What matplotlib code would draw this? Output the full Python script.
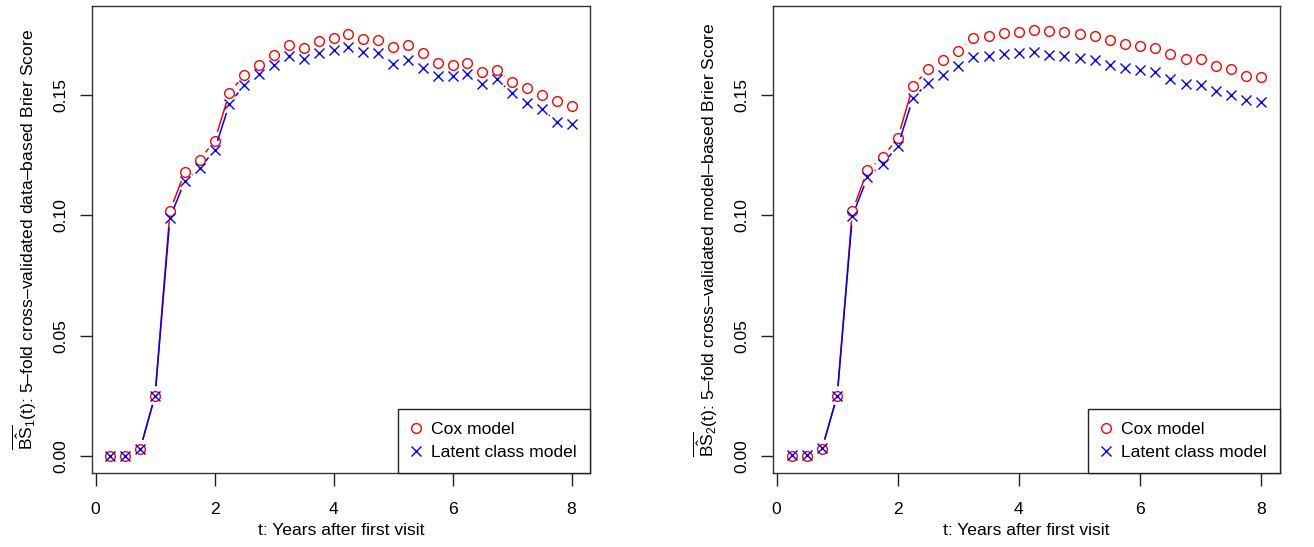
import numpy as np
import matplotlib
matplotlib.use("Agg")
import matplotlib.pyplot as plt
from matplotlib.lines import Line2D

plt.rcParams['font.family'] = ['Liberation Sans', 'DejaVu Sans']
plt.rcParams['mathtext.fontset'] = 'custom'
plt.rcParams['mathtext.rm'] = 'Liberation Sans'
plt.rcParams['mathtext.it'] = 'Liberation Sans:italic'

t = [0.25, 0.5, 0.75, 1.0, 1.25, 1.5, 1.75, 2.0, 2.25, 2.5, 2.75, 3.0, 3.25, 3.5, 3.75, 4.0,
     4.25, 4.5, 4.75, 5.0, 5.25, 5.5, 5.75, 6.0, 6.25, 6.5, 6.75, 7.0, 7.25, 7.5, 7.75, 8.0]

cox_bs1 = [0.0000, 0.0000, 0.0028, 0.0250, 0.1018, 0.1181, 0.1232, 0.1310, 0.1511, 0.1585,
           0.1628, 0.1668, 0.1708, 0.1699, 0.1726, 0.1739, 0.1755, 0.1735, 0.1732, 0.1701,
           0.1708, 0.1676, 0.1633, 0.1626, 0.1633, 0.1596, 0.1607, 0.1554, 0.1529, 0.1503,
           0.1476, 0.1457]
lcm_bs1 = [0.0000, 0.0000, 0.0028, 0.0250, 0.0990, 0.1143, 0.1196, 0.1272, 0.1465, 0.1543,
           0.1588, 0.1628, 0.1663, 0.1650, 0.1675, 0.1689, 0.1701, 0.1682, 0.1675, 0.1629,
           0.1646, 0.1613, 0.1581, 0.1581, 0.1588, 0.1549, 0.1567, 0.1508, 0.1468, 0.1445,
           0.1388, 0.1382]

cox_bs2 = [0.0000, 0.0000, 0.0028, 0.0250, 0.1018, 0.1188, 0.1243, 0.1322, 0.1538, 0.1608,
           0.1649, 0.1686, 0.1738, 0.1749, 0.1760, 0.1765, 0.1772, 0.1767, 0.1765, 0.1756,
           0.1747, 0.1731, 0.1715, 0.1706, 0.1697, 0.1671, 0.1653, 0.1650, 0.1621, 0.1608,
           0.1582, 0.1575]
lcm_bs2 = [0.0005, 0.0005, 0.0030, 0.0250, 0.0997, 0.1160, 0.1215, 0.1288, 0.1488, 0.1553,
           0.1586, 0.1621, 0.1660, 0.1663, 0.1674, 0.1676, 0.1679, 0.1669, 0.1665, 0.1655,
           0.1646, 0.1626, 0.1613, 0.1606, 0.1597, 0.1570, 0.1549, 0.1542, 0.1520, 0.1500,
           0.1482, 0.1474]

x_ticks = [0, 2, 4, 6, 8]
y_ticks = [0.00, 0.05, 0.10, 0.15]
y_tick_labels = ["0.00", "0.05", "0.10", "0.15"]
legend_labels = ["Cox model", "Latent class model"]
xlabel = "t: Years after first visit"
ylabels = [r"$\overline{\hat{\mathrm{BS}}}_{1}\mathrm{(t)}$: 5–fold cross–validated data–based Brier Score",
           r"$\overline{\hat{\mathrm{BS}}}_{2}\mathrm{(t)}$: 5–fold cross–validated model–based Brier Score"]

W, H = 1314, 547
fig = plt.figure(figsize=(W / 100, H / 100), dpi=100)

FS = 12.6
RED = '#FF0000'
BLUE = '#0000FF'
GAP = 9.5  # px gap around points (R type="b")
MS = 7.0


def add_ax(x0, x1, y0, y1):
    return fig.add_axes([x0 / W, 1 - y1 / H, (x1 - x0) / W, (y1 - y0) / H])


def gapped_line(ax, x, y, color):
    pts = ax.transData.transform(np.column_stack([x, y]))
    inv = ax.transData.inverted()
    for i in range(len(pts) - 1):
        p, q = pts[i], pts[i + 1]
        d = q - p
        L = np.hypot(*d)
        if L <= 2 * GAP:
            continue
        u = d / L
        a = inv.transform(p + u * GAP)
        b = inv.transform(q - u * GAP)
        ax.plot([a[0], b[0]], [a[1], b[1]], color=color, lw=1.1, solid_capstyle='butt')


axes_px = [(92, 590, 6, 473), (773, 1280, 6, 473)]
series = [(cox_bs1, lcm_bs1), (cox_bs2, lcm_bs2)]

for k, (box, (cox, lcm)) in enumerate(zip(axes_px, series)):
    ax = add_ax(*box)
    xr = (max(t) - min(t)) * 0.04
    ax.set_xlim(min(t) - xr, max(t) + xr)
    ax.set_ylim(0 - 0.18 * 0.04, 0.18 + 0.18 * 0.04)
    ax.plot(t, cox, linestyle='none', marker='o', ms=MS, mfc='none', mec=RED, mew=1.0)
    ax.plot(t, lcm, linestyle='none', marker='x', ms=MS, mec=BLUE, mew=1.0)
    gapped_line(ax, t, cox, RED)
    gapped_line(ax, t, lcm, BLUE)

    ax.set_xticks(x_ticks)
    ax.set_xticklabels([str(v) for v in x_ticks], fontsize=FS)
    ax.set_yticks(y_ticks)
    ax.set_yticklabels(y_tick_labels, fontsize=FS, rotation=90, va='center')
    ax.tick_params(axis='both', length=9, width=1, color='#222222', direction='out')
    ax.tick_params(axis='x', pad=12)
    ax.tick_params(axis='y', pad=8)
    for s in ax.spines.values():
        s.set_color('#333333')
        s.set_linewidth(1.0)
    ax.set_xlabel(xlabel, fontsize=FS, labelpad=4)
    ax.set_ylabel(ylabels[k], fontsize=FS, labelpad=10)

    handles = [Line2D([], [], linestyle='none', marker='o', ms=MS, mfc='none', mec=RED, mew=1.0),
               Line2D([], [], linestyle='none', marker='x', ms=MS, mec=BLUE, mew=1.0)]
    leg = ax.legend(handles, legend_labels, loc='lower right', bbox_to_anchor=(1, 0),
                    borderaxespad=0, fontsize=FS, fancybox=False, framealpha=1,
                    edgecolor='#222222', handlelength=0.6, handletextpad=0.55,
                    borderpad=0.75, labelspacing=0.42)
    leg.get_frame().set_linewidth(1.0)

fig.savefig('out.png', dpi=100)
